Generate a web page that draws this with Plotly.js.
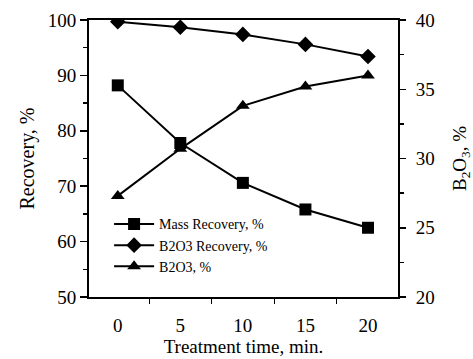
<!DOCTYPE html>
<html>
<head>
<meta charset="utf-8">
<script src="https://cdn.plot.ly/plotly-3.0.1.min.js"></script>
<style>html,body{margin:0;padding:0;background:#fff;}#chart{width:473px;height:359px;}</style>
</head>
<body>
<div id="chart"></div>
<script>
var time = [0, 5, 10, 15, 20];
var massRecovery = [88.2, 77.8, 70.6, 65.8, 62.5];
var b2o3Recovery = [99.7, 98.7, 97.4, 95.6, 93.4];
var b2o3Percent = [27.3, 30.7, 33.8, 35.2, 36.0];
var xTickLabels = ['0', '5', '10', '15', '20'];
var seriesNames = ['Mass Recovery, %', 'B2O3 Recovery, %', 'B2O3, %'];

var lineStyle = {color: '#000', width: 2};
var traces = [
  {x: time, y: massRecovery, name: seriesNames[0], mode: 'lines+markers', yaxis: 'y',
   line: lineStyle, marker: {symbol: 'square', size: 12, color: '#000'}},
  {x: time, y: b2o3Recovery, name: seriesNames[1], mode: 'lines+markers', yaxis: 'y',
   line: lineStyle, marker: {symbol: 'diamond', size: 12, color: '#000'}},
  {x: time, y: b2o3Percent, name: seriesNames[2], mode: 'lines+markers', yaxis: 'y2',
   line: lineStyle, marker: {symbol: 'triangle-up', size: 12, color: '#000'}}
];

var fontFam = '"Liberation Serif", "Times New Roman", serif';
var layout = {
  width: 473, height: 359,
  margin: {l: 89, r: 75, t: 20, b: 62},
  paper_bgcolor: '#fff', plot_bgcolor: '#fff',
  font: {family: fontFam, color: '#000', size: 19},
  showlegend: true,
  legend: {x: 0.065, y: 0.32, xanchor: 'left', yanchor: 'top', bgcolor: 'rgba(0,0,0,0)',
           font: {family: fontFam, size: 14, color: '#000'}, itemwidth: 40, tracegroupgap: 0},
  xaxis: {
    range: [-2.3, 22.4], tickvals: time, ticktext: xTickLabels, ticks: '',
    showline: true, linecolor: '#000', linewidth: 2, mirror: true,
    showgrid: false, zeroline: false,
    tickfont: {family: fontFam, size: 19}, ticklabelstandoff: 10,
    minor: {tickvals: [2.5, 7.5, 12.5, 17.5], ticks: 'outside', ticklen: 5, tickcolor: '#000', tickwidth: 1, showgrid: false},
    title: {text: 'Treatment time, min.', font: {family: fontFam, size: 19}, standoff: 3}
  },
  yaxis: {
    range: [50, 100], tickvals: [50, 60, 70, 80, 90, 100], ticks: 'outside', ticklen: 7,
    tickcolor: '#000', tickwidth: 1.5,
    showline: true, linecolor: '#000', linewidth: 2,
    showgrid: false, zeroline: false,
    tickfont: {family: fontFam, size: 19},
    minor: {tickvals: [55, 65, 75, 85, 95], ticks: 'outside', ticklen: 4, tickcolor: '#000', showgrid: false},
    title: {text: 'Recovery, %', font: {family: fontFam, size: 20}, standoff: 8}
  },
  yaxis2: {
    range: [20, 40], tickvals: [20, 25, 30, 35, 40], ticks: 'outside', ticklen: 6,
    tickcolor: '#000', tickwidth: 1.5,
    overlaying: 'y', side: 'right',
    showline: true, linecolor: '#000', linewidth: 2,
    showgrid: false, zeroline: false,
    tickfont: {family: fontFam, size: 19}, ticklabelstandoff: 6,
    minor: {tickvals: [22.5, 27.5, 32.5, 37.5], ticks: 'outside', ticklen: 4, tickcolor: '#000', showgrid: false},
    title: {text: 'B<sub>2</sub>O<sub>3</sub>, %', font: {family: fontFam, size: 19}, standoff: 20}
  }
};

Plotly.newPlot('chart', traces, layout, {displayModeBar: false, staticPlot: true});
</script>
</body>
</html>
